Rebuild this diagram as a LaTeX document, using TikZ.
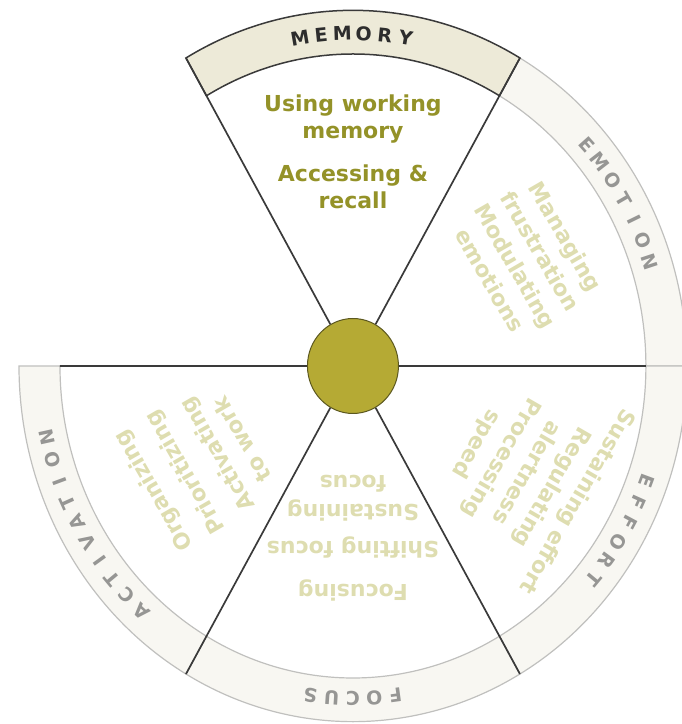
\documentclass[tikz,border=0pt]{standalone}
\usepackage{fontspec}
\setmainfont{DejaVu Sans}
\usetikzlibrary{positioning, shapes.geometric}

\definecolor{hubfill}{RGB}{181,170,52}
\definecolor{hubdraw}{RGB}{92,88,32}
\definecolor{memband}{RGB}{237,234,216}
\definecolor{ringband}{RGB}{248,247,242}
\definecolor{ringedge}{RGB}{192,192,190}
\definecolor{spoke}{RGB}{58,58,58}
\definecolor{deeptext}{RGB}{148,146,40}
\definecolor{paletext}{RGB}{222,221,176}
\definecolor{ringtext}{RGB}{150,150,148}
\definecolor{memtext}{RGB}{45,45,45}

\begin{document}
\begin{tikzpicture}[x=1pt, y=1.065pt,
  hub_node/.style={ellipse, fill=hubfill, draw=hubdraw, line width=1pt, minimum width=91pt, minimum height=95pt, inner sep=0pt},
  band/.style={fill=ringband, draw=ringedge, line width=1.2pt},
  mem_band/.style={fill=memband, draw=spoke, line width=1.5pt},
  spoke_line/.style={draw=spoke, line width=1.7pt},
  deep_text/.style={text=deeptext, align=center, font=\fontsize{22}{27}\selectfont\bfseries, inner sep=0pt},
  pale_text/.style={deep_text, text=paletext, font=\fontsize{22}{29}\selectfont\bfseries},
  ring_letter/.style={anchor=base, inner sep=0pt, text=ringtext, font=\fontsize{19}{19}\selectfont\bfseries}]

\useasboundingbox (-353,-336.2) rectangle (329,343.7);

% outer bands
\foreach \a/\b in {0/60,300/360,240/300,180/240}
  \draw[band] (\a:293) arc[start angle=\a, end angle=\b, radius=293] -- (\b:334) arc[start angle=\b, end angle=\a, radius=334] -- cycle;
\draw[mem_band] (60:293) arc[start angle=60, end angle=120, radius=293] -- (120:334) arc[start angle=120, end angle=60, radius=334] -- cycle;

% spoke ends
\coordinate (r60) at (60:334);
\coordinate (r120) at (120:334);
\coordinate (i0) at (0:293);
\coordinate (i180) at (180:293);
\coordinate (r240) at (240:334);
\coordinate (r300) at (300:334);

\node[hub_node] (hub) at (0,0) {};

\path[spoke_line]
\foreach \j in {r60,r120,i0,i180,r240,r300}{(hub) -- (\j)};

% sector texts
\node[deep_text] (memtext) at (90:201) {Using working\\memory\\[16pt]Accessing \&\\recall};
\node[pale_text, rotate=-60] (emotext) at (30:202) {Managing\\frustration\\Modulating\\emotions};
\node[pale_text, rotate=-120] (efftext) at (-30:200) {Sustaining effort\\Regulating\\alertness\\Processing\\speed};
\node[pale_text, rotate=180] (foctext) at (-90:162) {Focusing\\[14pt]Shifting focus\\[8pt]Sustaining\\focus};
\node[pale_text, rotate=120] (acttext) at (211:182) {Organizing\\[8pt]Prioritizing\\[8pt]Activating\\to work};

% ring labels
\foreach \ch [count=\k] in {M,E,M,O,R,Y}
  \node[ring_letter, text=memtext, rotate={(3.5-\k)*3.9}] (mem\k) at ({90+(3.5-\k)*3.9}:306) {\ch};
\foreach \ch [count=\k] in {E,M,O,T,I,O,N}
  \node[ring_letter, rotate={-60+(4-\k)*3.9}] (emo\k) at ({30+(4-\k)*3.9}:306) {\ch};
\foreach \ch [count=\k] in {E,F,F,O,R,T}
  \node[ring_letter, rotate={-120+(3.5-\k)*3.9}] (eff\k) at ({-30+(3.5-\k)*3.9}:306) {\ch};
\foreach \ch [count=\k] in {F,O,C,U,S}
  \node[ring_letter, rotate={180+(3-\k)*3.9}] (foc\k) at ({-90+(3-\k)*3.9}:306) {\ch};
\foreach \ch [count=\k] in {A,C,T,I,V,A,T,I,O,N}
  \node[ring_letter, rotate={120+(5.5-\k)*3.9}] (act\k) at ({210+(5.5-\k)*3.9}:306) {\ch};

\end{tikzpicture}
\end{document}
